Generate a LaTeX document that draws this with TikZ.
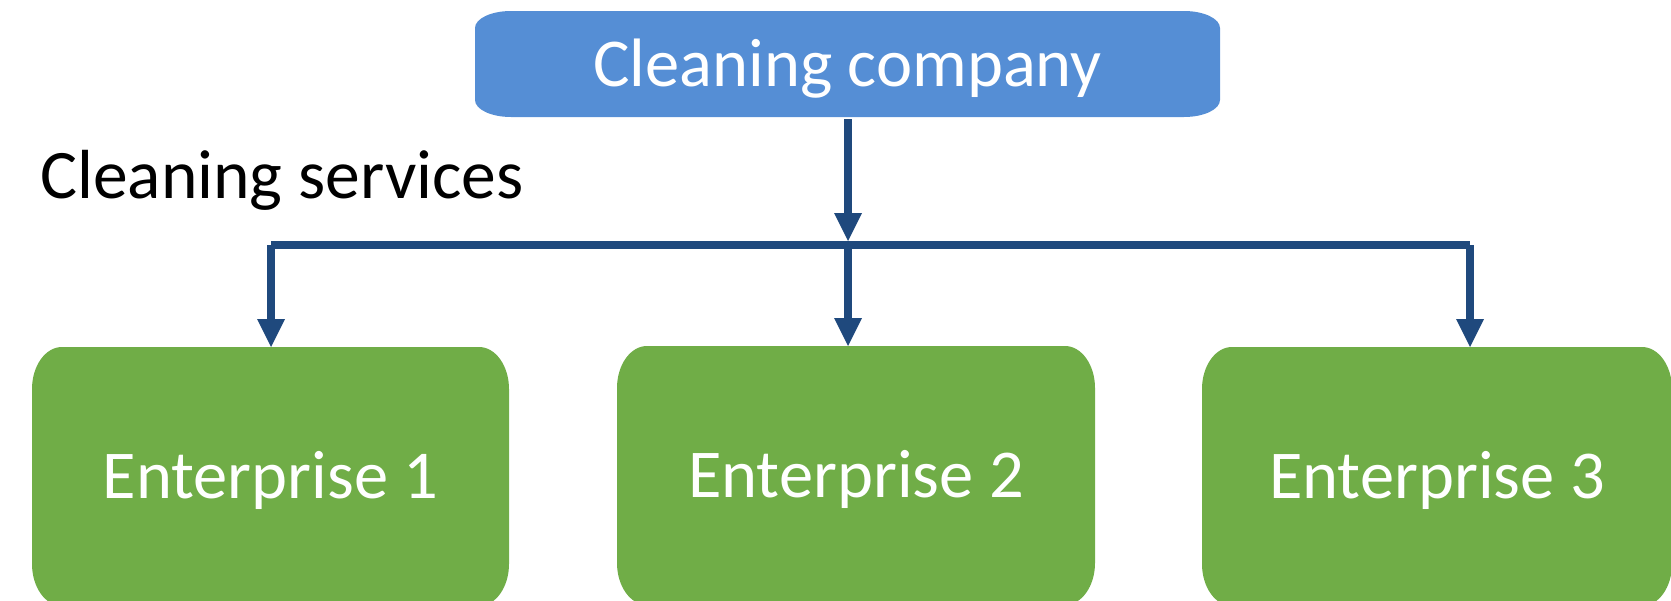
\documentclass[tikz,border=0pt]{standalone}
\usepackage{fontspec}
\setmainfont{Carlito}
\usetikzlibrary{arrows.meta,calc}
\definecolor{boxblue}{RGB}{85,142,213}
\definecolor{boxgreen}{RGB}{112,173,71}
\definecolor{arrowblue}{RGB}{31,73,125}
\tikzset{
  ellbox/.style n args={3}{
    fill=white, inner sep=0pt, outer sep=0pt, text=white,
    text height=44pt, text depth=0pt,
    font=\fontsize{68.5}{80}\selectfont,
    path picture={
      \fill[#3] ([xshift=#1]path picture bounding box.north west)
        -- ([xshift=-#1]path picture bounding box.north east)
        arc[start angle=90,end angle=0,x radius=#1,y radius=#2]
        -- ([yshift=#2]path picture bounding box.south east)
        arc[start angle=0,end angle=-90,x radius=#1,y radius=#2]
        -- ([xshift=#1]path picture bounding box.south west)
        arc[start angle=270,end angle=180,x radius=#1,y radius=#2]
        -- ([yshift=-#2]path picture bounding box.north west)
        arc[start angle=180,end angle=90,x radius=#1,y radius=#2]
        -- cycle;
    }},
  topbox/.style={ellbox={36pt}{17pt}{boxblue}, minimum width=745pt, minimum height=106pt},
  entbox/.style={ellbox={30pt}{42pt}{boxgreen}, minimum height=259pt},
  conn/.style={draw=arrowblue, line width=8.5pt, line cap=butt},
  arr/.style={conn, -{Triangle[length=28pt 0 0, width=28pt 0 0, line width=0pt 0 0]}},
  plain/.style={font=\fontsize{69.5}{80}\selectfont, inner sep=0pt, text=black}
}
\begin{document}
\begin{tikzpicture}[x=1pt,y=-1pt]
\useasboundingbox (0,0) rectangle (1671,600);
\clip (0,0) rectangle (1671,600);

\node[topbox] (top) at (847.5,64) {Cleaning company};
\node[plain, anchor=base west] (services) at (40,198) {Cleaning services};

\node[entbox, minimum width=477pt] (e1) at (270.5,476.5) {Enterprise 1};
\node[entbox, minimum width=478pt] (e2) at (856,475.5) {Enterprise 2};
\node[entbox, minimum width=470pt] (e3) at (1437,476.5) {Enterprise 3};

\coordinate (j1) at (271,245);
\coordinate (j2) at (848,245);
\coordinate (j3) at (1470,245);
\coordinate (jt) at (848,241);

\draw[arr] (top.south -| jt) ++(0,2) -- (jt);
\draw[conn] (j1) -- (j3);
\draw[arr] (j1) -- (j1 |- e1.north);
\draw[arr] (j2) -- (j2 |- e2.north);
\draw[arr] (j3) -- (j3 |- e3.north);
\end{tikzpicture}
\end{document}
